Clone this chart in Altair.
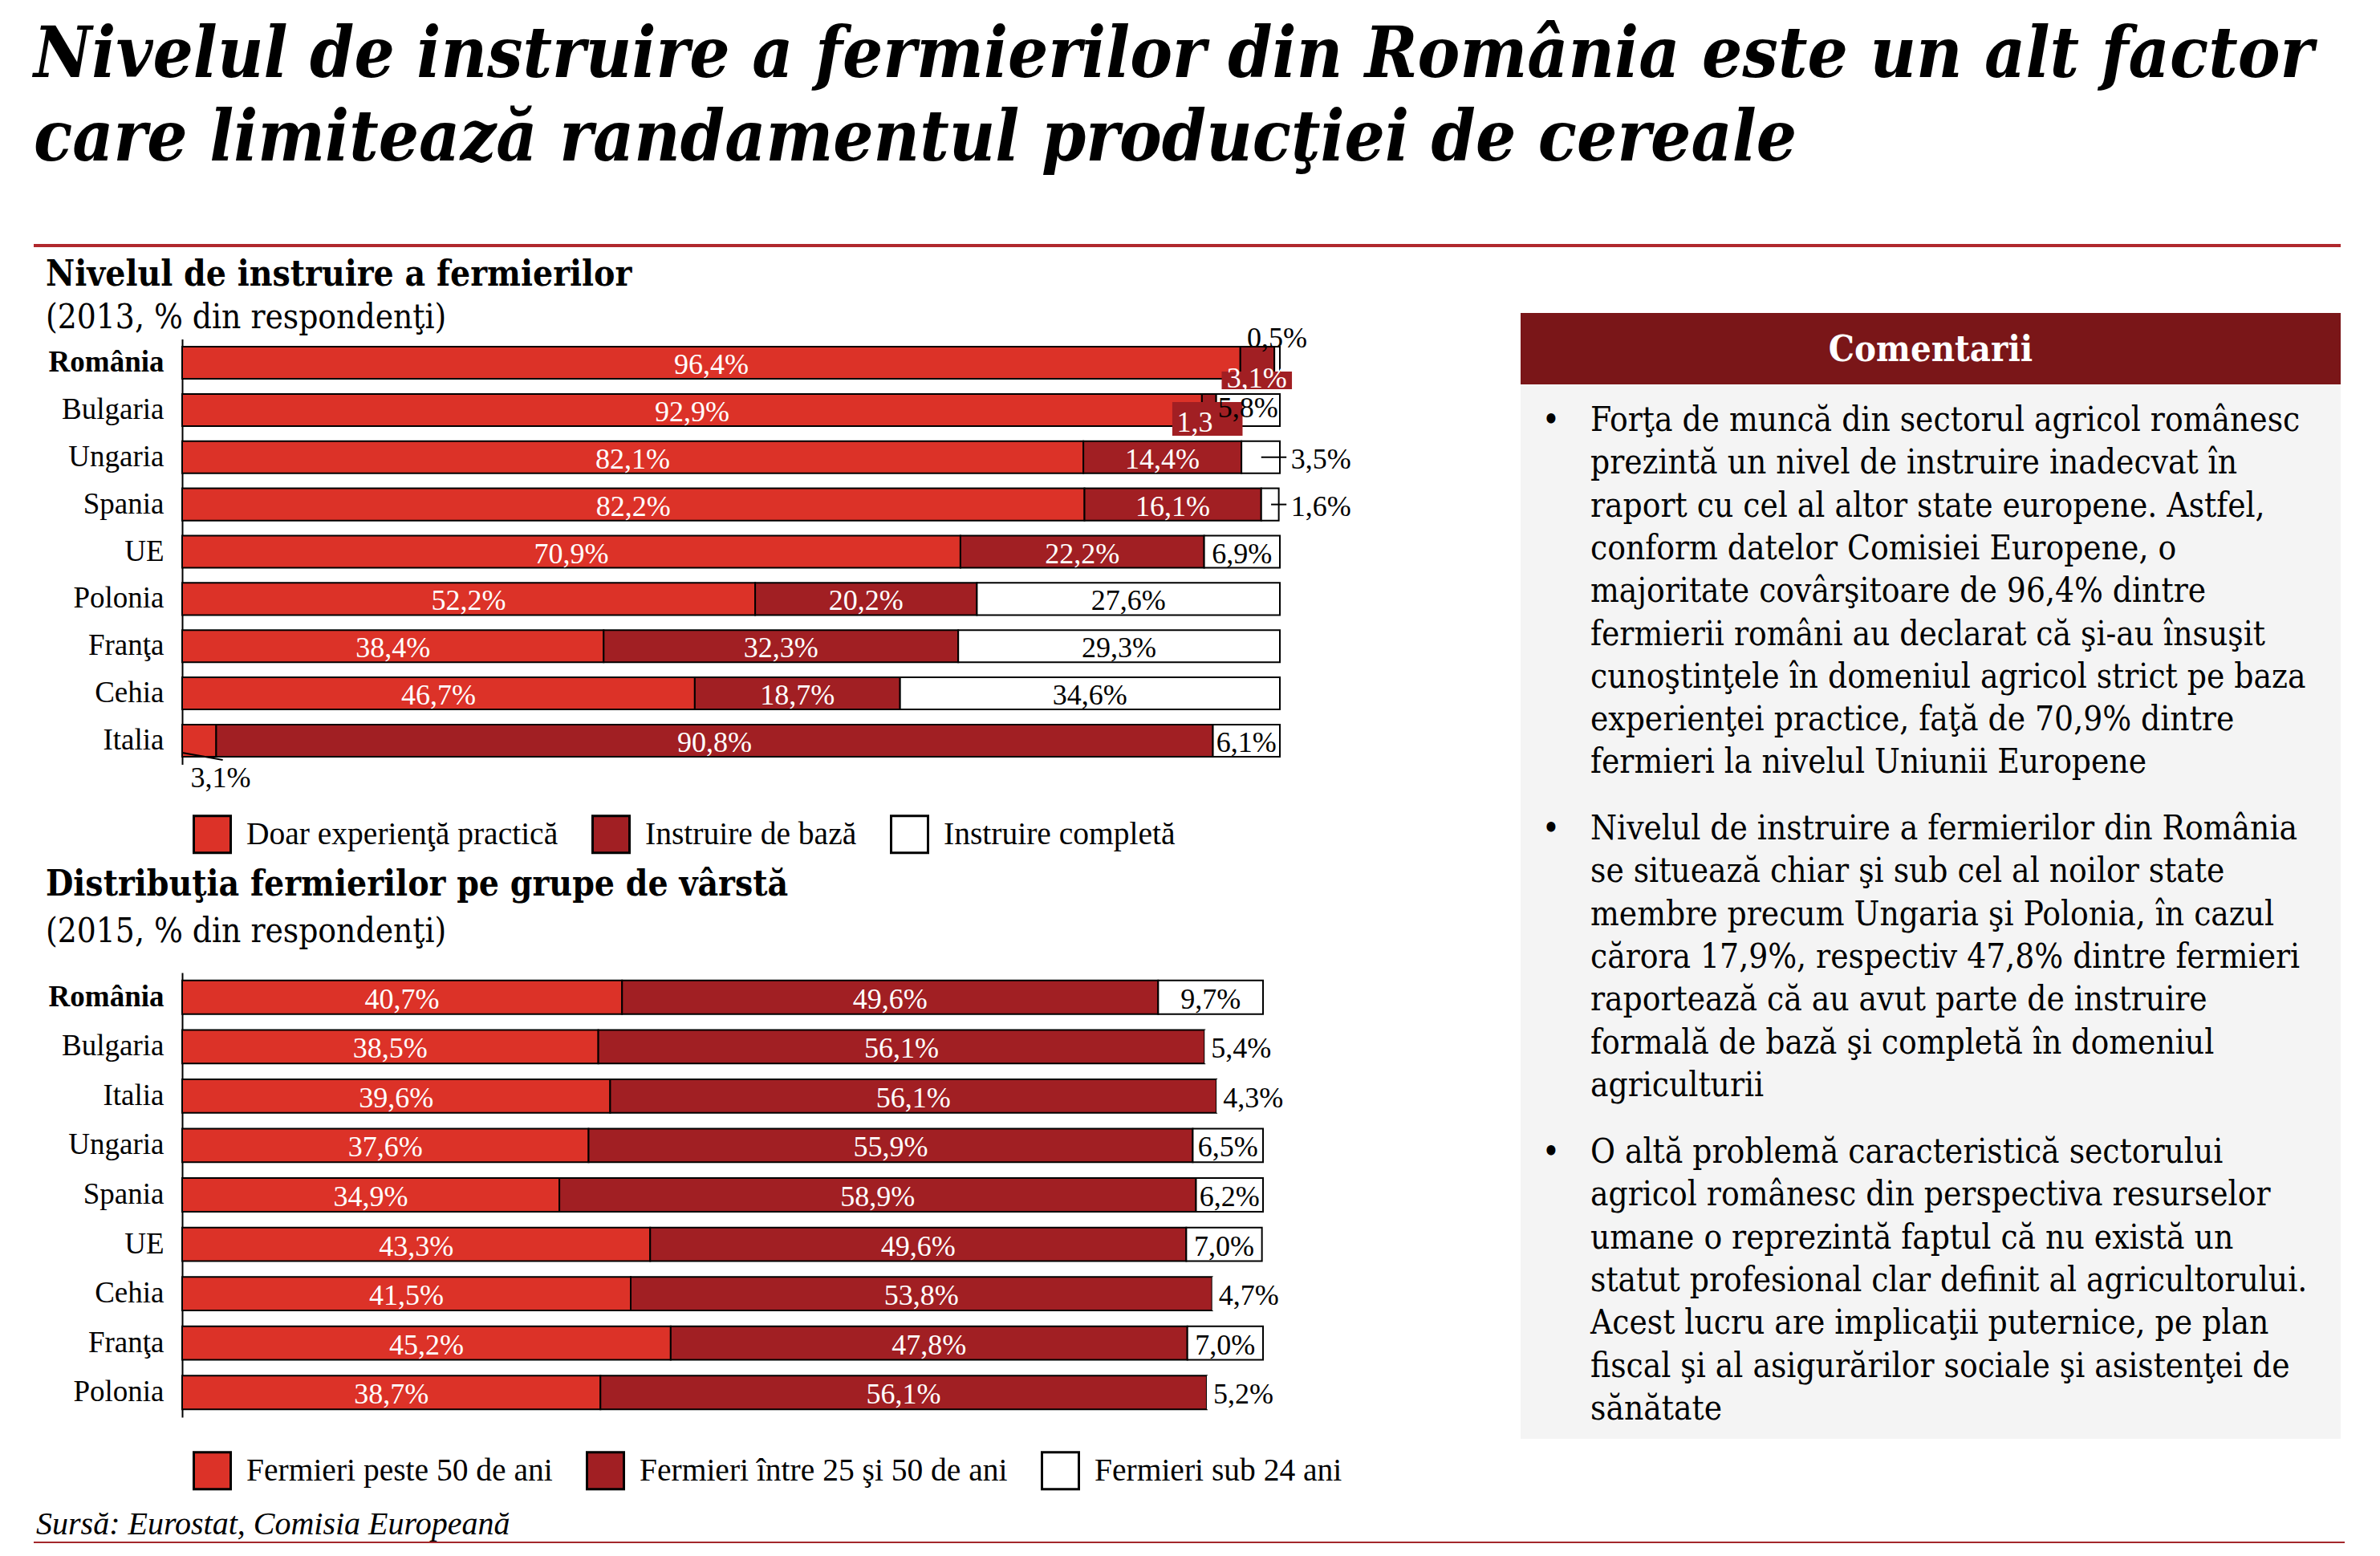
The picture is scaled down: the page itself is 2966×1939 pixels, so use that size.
import altair as alt
import pandas as pd

# ---------------- data ----------------
top_countries = ["România", "Bulgaria", "Ungaria", "Spania", "UE", "Polonia", "Franţa", "Cehia", "Italia"]
top_categories = ["Doar experienţă practică", "Instruire de bază", "Instruire  completă"]
top_practica = [96.4, 92.9, 82.1, 82.2, 70.9, 52.2, 38.4, 46.7, 3.1]
top_baza = [3.1, 1.3, 14.4, 16.1, 22.2, 20.2, 32.3, 18.7, 90.8]
top_completa = [0.5, 5.8, 3.5, 1.6, 6.9, 27.6, 29.3, 34.6, 6.1]

bot_countries = ["România", "Bulgaria", "Italia", "Ungaria", "Spania", "UE", "Cehia", "Franţa", "Polonia"]
bot_categories = ["Fermieri peste 50 de ani", "Fermieri între 25 şi 50 de ani", "Fermieri sub 24 ani"]
bot_peste50 = [40.7, 38.5, 39.6, 37.6, 34.9, 43.3, 41.5, 45.2, 38.7]
bot_intre = [49.6, 56.1, 56.1, 55.9, 58.9, 49.6, 53.8, 47.8, 56.1]
bot_sub24 = [9.7, 5.4, 4.3, 6.5, 6.2, 7.0, 4.7, 7.0, 5.2]

title_lines = ["Nivelul de instruire a fermierilor din România este un alt factor",
               "care limitează randamentul producţiei de cereale"]
bullets = [
    ["Forţa de muncă din sectorul agricol românesc",
     "prezintă un nivel de instruire inadecvat în",
     "raport cu cel al altor state europene. Astfel,",
     "conform datelor Comisiei Europene, o",
     "majoritate covârşitoare de 96,4% dintre",
     "fermierii români au declarat că şi-au însuşit",
     "cunoştinţele în domeniul agricol strict pe baza",
     "experienţei practice, faţă de 70,9% dintre",
     "fermieri la nivelul Uniunii Europene"],
    ["Nivelul de instruire a fermierilor din România",
     "se situează chiar şi sub cel al noilor state",
     "membre precum Ungaria şi Polonia, în cazul",
     "cărora 17,9%, respectiv 47,8% dintre fermieri",
     "raportează că au avut parte de instruire",
     "formală de bază şi completă în domeniul",
     "agriculturii"],
    ["O altă problemă caracteristică sectorului",
     "agricol românesc din perspectiva resurselor",
     "umane o reprezintă faptul că nu există un",
     "statut profesional clar definit al agricultorului.",
     "Acest lucru are implicaţii puternice, pe plan",
     "fiscal şi al asigurărilor sociale şi asistenţei de",
     "sănătate"],
]

# ---------------- style ----------------
FONT = "Liberation Serif"
WIDE = "DejaVu Serif Condensed, DejaVu Serif, Liberation Serif"
RED = "#dc3228"
DARK = "#a11f23"
WHITE = "#ffffff"
HEADER = "#7a1618"
PANEL = "#f4f4f4"
RULE = "#b0282d"

W, H = 2945, 1917
M = 8  # page margin


def cx(x):
    return x - M


def cy(y):
    return y - M


dummy = pd.DataFrame({"d": [0]})


def text_mark(s, x, y, size, weight="normal", style="normal", color="black", align="left",
              line_height=None, font=FONT):
    kw = dict(text=s, font=font, fontSize=size, fontWeight=weight, fontStyle=style,
              color=color, align=align, baseline="alphabetic")
    if line_height:
        kw.update(lineBreak="\n", lineHeight=line_height)
    return alt.Chart(dummy).mark_text(**kw).encode(x=alt.value(cx(x)), y=alt.value(cy(y)))


def rect_mark(x0, y0, x1, y1, color):
    return alt.Chart(dummy).mark_rect(color=color).encode(
        x=alt.value(cx(x0)), x2=alt.value(cx(x1)), y=alt.value(cy(y0)), y2=alt.value(cy(y1)))


def fmt(v):
    return f"{v:.1f}".replace(".", ",") + "%"


def long_df(countries, series):
    rows = []
    for i, c in enumerate(countries):
        s = 0.0
        for k, ser in enumerate(series):
            v = ser[i]
            rows.append(dict(country=c, k=k, value=v, start=s, end=s + v, lx=s + v / 2,
                             label=fmt(v), align="center", dy=3, lc=("white" if k < 2 else "black")))
            s += v
    return pd.DataFrame(rows)


def panel(df, cats, countries, x_range, y_range, pad, legend_xy, boxes, leaders):
    xs = alt.Scale(domain=[0, 100], range=x_range)
    ys = alt.Scale(domain=countries, range=y_range, paddingInner=pad, paddingOuter=pad / 2)
    yenc = alt.Y("country:N", scale=ys, title=None, axis=alt.Axis(
        orient="left", offset=-x_range[0], domainColor="black", domainWidth=2, ticks=False,
        grid=False, labelFont=FONT, labelFontSize=37, labelColor="black", labelPadding=23,
        labelFontWeight={"condition": {"test": "datum.value == 'România'", "value": "bold"},
                         "value": "normal"}))
    df = df.copy()
    df["cat"] = [cats[k] for k in df["k"]]
    color = alt.Color("cat:N", scale=alt.Scale(domain=cats, range=[RED, DARK, WHITE]), title=None,
                      legend=alt.Legend(orient="none", legendX=legend_xy[0], legendY=legend_xy[1],
                                        direction="horizontal", symbolType="square", symbolSize=2116,
                                        symbolStrokeColor="black", symbolStrokeWidth=3,
                                        labelFont=FONT, labelFontSize=39.5, labelColor="black",
                                        labelOffset=18, columnPadding=36, padding=0, labelLimit=1000))
    layers = [alt.Chart(df).mark_bar(strokeWidth=2).encode(
        x=alt.X("start:Q", scale=xs, axis=None), x2="end:Q", y=yenc, color=color,
        stroke=alt.Stroke("sc:N", scale=None))]
    for (bx0, bx1, c, bh, bdy) in boxes:
        bd = pd.DataFrame({"country": [c], "x0": [bx0], "x1": [bx1]})
        layers.append(alt.Chart(bd).mark_bar(color=DARK, height=bh, yOffset=bdy).encode(
            x=alt.X("x0:Q", scale=xs, axis=None), x2="x1:Q", y=yenc))
    for (c, lx0, lx1, o0, o1) in leaders:
        ld = pd.DataFrame({"country": [c], "x0": [lx0], "x1": [lx1]})
        layers.append(alt.Chart(ld).mark_rule(color="black", strokeWidth=2, yOffset=o0, y2Offset=o1).encode(
            x=alt.X("x0:Q", scale=xs, axis=None), x2="x1:Q", y=yenc,
            y2=alt.Y2("country:N", bandPosition=0.5)))
    for (align, dy, lc), g in df.groupby(["align", "dy", "lc"]):
        layers.append(alt.Chart(g).mark_text(font=FONT, fontSize=36, align=align, baseline="middle",
                                             dy=float(dy), color=lc).encode(
            x=alt.X("lx:Q", scale=xs, axis=None), y=yenc, text="label:N"))
    return alt.layer(*layers)


# ---------- top panel (education level) ----------
top = long_df(top_countries, [top_practica, top_baza, top_completa])
top["sc"] = "black"


def override(df, country, k, **kw):
    idx = df.index[(df["country"] == country) & (df["k"] == k)][0]
    for key, val in kw.items():
        df.at[idx, key] = val


override(top, "România", 1, lx=97.9, dy=20)
override(top, "România", 2, lx=97.0, align="left", dy=-30)
override(top, "Bulgaria", 1, lx=90.6, align="left", dy=16, label="1,3")
override(top, "Bulgaria", 2, dy=-2)
override(top, "Ungaria", 2, lx=101.0, align="left")
override(top, "Spania", 2, lx=101.0, align="left")
override(top, "Italia", 0, lx=3.5, dy=47, lc="black")

top_panel = panel(
    top, top_categories, top_countries,
    x_range=[cx(227), cx(1595)], y_range=[cy(422.6), cy(952.4)], pad=0.32,
    legend_xy=[cx(240), cy(1015)],
    boxes=[(94.7, 101.1, "România", 22, 22), (90.2, 96.6, "Bulgaria", 42, 11)],
    leaders=[("Ungaria", 98.3, 100.6, 0, 0), ("Spania", 99.2, 100.6, 0, 0), ("Italia", 0.0, 3.7, 15, 24)],
)

# ---------- bottom panel (age groups) ----------
bot = long_df(bot_countries, [bot_peste50, bot_intre, bot_sub24])
small = (bot["k"] == 2) & (bot["value"] < 6)
bot["sc"] = ["transparent" if s else "black" for s in small]
bot.loc[small, "align"] = "left"
bot.loc[small, "lx"] = bot.loc[small, "start"] + 0.6

bot_panel = panel(
    bot, bot_categories, bot_countries,
    x_range=[cx(227), cx(1574)], y_range=[cy(1212), cy(1766)], pad=0.32,
    legend_xy=[cx(240), cy(1808)],
    boxes=[], leaders=[],
)

# ---------- annotations ----------
ann = [
    text_mark(title_lines[0], 42, 96, 88, weight="bold", style="italic", font=WIDE),
    text_mark(title_lines[1], 42, 200, 88, weight="bold", style="italic", font=WIDE),
    rect_mark(42, 304, 2917, 308, RULE),
    text_mark("Nivelul de instruire a fermierilor", 57, 356, 44, weight="bold", font=WIDE),
    text_mark("(2013, % din respondenţi)", 57, 409, 42, font=WIDE),
    text_mark("Distribuţia fermierilor pe grupe de vârstă", 57, 1116, 44, weight="bold", font=WIDE),
    text_mark("(2015, % din respondenţi)", 57, 1174, 42, font=WIDE),
    text_mark("Sursă: Eurostat, Comisia Europeană", 45, 1912, 40, style="italic"),
    rect_mark(42, 1921, 2922, 1923, "#a3272b"),
    rect_mark(1895, 390, 2917, 479, HEADER),
    rect_mark(1895, 479, 2917, 1793, PANEL),
    text_mark("Comentarii", 2406, 450, 45, weight="bold", color="white", align="center", font=WIDE),
]
bullet_y = [537, 1046, 1449]
for lines, by in zip(bullets, bullet_y):
    ann.append(text_mark("•", 1933, by, 42, align="center", font=WIDE))
    ann.append(text_mark("\n".join(lines), 1982, by, 42, line_height=53.3, font=WIDE))

chart = alt.layer(*ann, top_panel, bot_panel).resolve_scale(
    x="independent", y="independent", color="independent"
).properties(
    width=W, height=H, autosize="none", padding=0, background="white"
).configure_view(stroke=None)

chart.save("out.html", embed_options={"renderer": "svg", "actions": False})
